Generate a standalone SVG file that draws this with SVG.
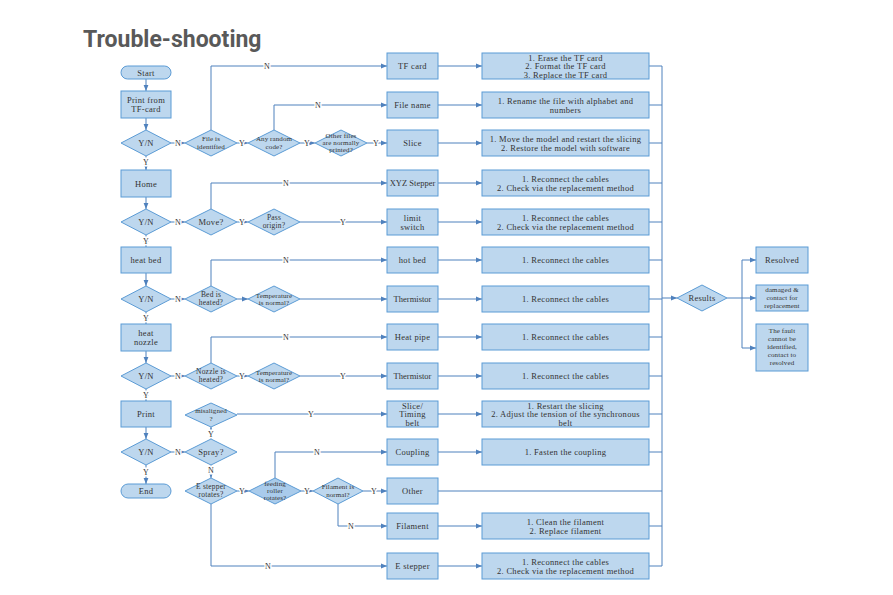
<svg xmlns="http://www.w3.org/2000/svg" width="893" height="595" viewBox="0 0 893 595">
<defs>
<marker id="ah" viewBox="0 0 10 10" refX="10" refY="5" markerWidth="6" markerHeight="6" orient="auto" markerUnits="userSpaceOnUse">
<path d="M0,1 L10,5 L0,9 Z" fill="#4f81bd"/>
</marker>
<style>
.b{fill:#bdd7ee;stroke:#5b9bd5;stroke-width:1}
.t{font-family:"Liberation Serif",serif;font-size:8.5px;letter-spacing:0.3px;fill:#333;text-anchor:middle}
.m{letter-spacing:0}
.d{font-size:7.5px;letter-spacing:0.2px}
.s{font-size:7px;letter-spacing:0.1px}
.c{fill:none;stroke:#4f81bd;stroke-width:1}
.a{marker-end:url(#ah)}
.l{font-family:"Liberation Serif",serif;font-size:8px;fill:#333;text-anchor:middle;paint-order:stroke;stroke:#fff;stroke-width:3px}
</style>
</defs>
<rect width="893" height="595" fill="#fff"/>
<text x="83" y="47" font-family="Roboto,sans-serif" font-weight="bold" font-size="23" fill="#595959">Trouble-shooting</text>

<g id="connectors">
<path class="c a" d="M146,79 V91"/>
<path class="c a" d="M146,118 V130"/>
<path class="c a" d="M146,156 V170"/>
<path class="c a" d="M146,197 V209"/>
<path class="c a" d="M146,235 V247"/>
<path class="c a" d="M146,273 V286"/>
<path class="c a" d="M146,312 V324"/>
<path class="c a" d="M146,351 V363"/>
<path class="c a" d="M146,389 V401"/>
<path class="c a" d="M146,427 V439"/>
<path class="c a" d="M146,465 V484"/>
<path class="c a" d="M171,143 H185"/>
<path class="c a" d="M171,222 H185"/>
<path class="c a" d="M171,299 H185"/>
<path class="c a" d="M171,376 H185"/>
<path class="c a" d="M171,452 H185"/>
<path class="c a" d="M211,130 V66 H387"/>
<path class="c a" d="M237,143 H248"/>
<path class="c a" d="M274,130 V105 H387"/>
<path class="c a" d="M300,143 H315"/>
<path class="c a" d="M367,143 H387"/>
<path class="c a" d="M211,209 V183 H387"/>
<path class="c a" d="M237,222 H248"/>
<path class="c a" d="M300,222 H387"/>
<path class="c a" d="M211,286 V260 H387"/>
<path class="c a" d="M237,299 H248"/>
<path class="c a" d="M300,299 H387"/>
<path class="c a" d="M211,363 V337 H387"/>
<path class="c a" d="M237,376 H248"/>
<path class="c a" d="M300,376 H387"/>
<path class="c a" d="M211,439 V427"/>
<path class="c a" d="M237,414 H387"/>
<path class="c a" d="M211,465 V478"/>
<path class="c a" d="M237,491 H249"/>
<path class="c a" d="M211,504 V566 H387"/>
<path class="c a" d="M275,478 V452 H387"/>
<path class="c a" d="M301,491 H313"/>
<path class="c a" d="M363,491 H387"/>
<path class="c a" d="M338,504 V526 H387"/>
<path class="c a" d="M438,66 H482"/>
<path class="c a" d="M438,105 H482"/>
<path class="c a" d="M438,143 H482"/>
<path class="c a" d="M438,183 H482"/>
<path class="c a" d="M438,222 H482"/>
<path class="c a" d="M438,260 H482"/>
<path class="c a" d="M438,299 H482"/>
<path class="c a" d="M438,337 H482"/>
<path class="c a" d="M438,376 H482"/>
<path class="c a" d="M438,414 H482"/>
<path class="c a" d="M438,452 H482"/>
<path class="c" d="M438,491 H662"/>
<path class="c a" d="M438,526 H482"/>
<path class="c a" d="M438,566 H482"/>
<path class="c" d="M649,66 H662 M649,105 H662 M649,143 H662 M649,183 H662 M649,222 H662 M649,260 H662 M649,299 H662 M649,337 H662 M649,376 H662 M649,414 H662 M649,452 H662 M649,526 H662 M649,566 H662"/>
<path class="c" d="M662,66 V566"/>
<path class="c a" d="M662,298 H677"/>
<path class="c" d="M727,298 H742 M742,260 V348"/>
<path class="c a" d="M742,260 H756"/>
<path class="c a" d="M742,298 H756"/>
<path class="c a" d="M742,348 H756"/>
<text class="l" x="146" y="165">Y</text>
<text class="l" x="146" y="244">Y</text>
<text class="l" x="146" y="321">Y</text>
<text class="l" x="146" y="398">Y</text>
<text class="l" x="146" y="475">Y</text>
<text class="l" x="178" y="146">N</text>
<text class="l" x="178" y="225">N</text>
<text class="l" x="178" y="302">N</text>
<text class="l" x="178" y="379">N</text>
<text class="l" x="178" y="455">N</text>
<text class="l" x="267" y="69">N</text>
<text class="l" x="242" y="146">Y</text>
<text class="l" x="318" y="108">N</text>
<text class="l" x="307" y="146">Y</text>
<text class="l" x="376" y="146">Y</text>
<text class="l" x="286" y="186">N</text>
<text class="l" x="242" y="225">Y</text>
<text class="l" x="343" y="225">Y</text>
<text class="l" x="286" y="263">N</text>
<text class="l" x="286" y="340">N</text>
<text class="l" x="242" y="379">Y</text>
<text class="l" x="343" y="379">Y</text>
<text class="l" x="211" y="437">Y</text>
<text class="l" x="311" y="417">Y</text>
<text class="l" x="211" y="473">N</text>
<text class="l" x="242" y="494">Y</text>
<text class="l" x="268" y="569">N</text>
<text class="l" x="317" y="455">N</text>
<text class="l" x="307" y="494">Y</text>
<text class="l" x="374" y="494">Y</text>
<text class="l" x="351" y="529">N</text>
</g>

<g id="start"><rect class="b" x="121" y="66" width="50" height="13" rx="6.5"/><text class="t" x="146" y="75.5">Start</text></g>
<g id="print-tf"><rect class="b" x="121" y="91" width="50" height="27"/><text class="t" x="146" y="102.5">Print from<tspan x="146" dy="9">TF-card</tspan></text></g>
<g id="yn1"><polygon class="b" points="121,143 146,130 171,143 146,156"/><text class="t" x="146" y="146">Y/N</text></g>
<g id="home"><rect class="b" x="121" y="170" width="50" height="27"/><text class="t" x="146" y="186.5">Home</text></g>
<g id="yn2"><polygon class="b" points="121,222 146,209 171,222 146,235"/><text class="t" x="146" y="225">Y/N</text></g>
<g id="heat-bed"><rect class="b" x="121" y="247" width="50" height="26"/><text class="t" x="146" y="263">heat bed</text></g>
<g id="yn3"><polygon class="b" points="121,299 146,286 171,299 146,312"/><text class="t" x="146" y="302">Y/N</text></g>
<g id="heat-nozzle"><rect class="b" x="121" y="324" width="50" height="27"/><text class="t" x="146" y="335.5">heat<tspan x="146" dy="9">nozzle</tspan></text></g>
<g id="yn4"><polygon class="b" points="121,376 146,363 171,376 146,389"/><text class="t" x="146" y="379">Y/N</text></g>
<g id="print"><rect class="b" x="121" y="401" width="50" height="26"/><text class="t" x="146" y="417">Print</text></g>
<g id="yn5"><polygon class="b" points="121,452 146,439 171,452 146,465"/><text class="t" x="146" y="455">Y/N</text></g>
<g id="end"><rect class="b" x="121" y="484" width="50" height="14" rx="7"/><text class="t" x="146" y="494">End</text></g>

<g id="file-identified"><polygon class="b" points="185,143 211,130 237,143 211,156"/><text class="t s" x="211" y="141">File is<tspan x="211" dy="8">identified</tspan></text></g>
<g id="random-code"><polygon class="b" points="248,143 274,130 300,143 274,156"/><text class="t s" x="274" y="141">Any random<tspan x="274" dy="8">code?</tspan></text></g>
<g id="other-files"><polygon class="b" points="315,143 341,130 367,143 341,156"/><text class="t s" x="341" y="138">Other files<tspan x="341" dy="7">are normally</tspan><tspan x="341" dy="7">printed?</tspan></text></g>
<g id="move"><polygon class="b" points="185,222 211,209 237,222 211,235"/><text class="t" x="211" y="225">Move?</text></g>
<g id="pass-origin"><polygon class="b" points="248,222 274,209 300,222 274,235"/><text class="t d" x="274" y="219.5">Pass<tspan x="274" dy="8">origin?</tspan></text></g>
<g id="bed-heated"><polygon class="b" points="185,299 211,286 237,299 211,312"/><text class="t d" x="211" y="296.5">Bed is<tspan x="211" dy="8">heated?</tspan></text></g>
<g id="temp1"><polygon class="b" points="248,299 274,286 300,299 274,312"/><text class="t s" x="274" y="297.5">Temperature<tspan x="274" dy="7">is normal?</tspan></text></g>
<g id="nozzle-heated"><polygon class="b" points="185,376 211,363 237,376 211,389"/><text class="t d" x="211" y="373.5">Nozzle is<tspan x="211" dy="8">heated?</tspan></text></g>
<g id="temp2"><polygon class="b" points="248,376 274,363 300,376 274,389"/><text class="t s" x="274" y="374.5">Temperature<tspan x="274" dy="7">is normal?</tspan></text></g>
<g id="misaligned"><polygon class="b" points="185,415 211,403 237,415 211,427"/><text class="t s" x="211" y="413">misaligned<tspan x="211" dy="8">?</tspan></text></g>
<g id="spray"><polygon class="b" points="185,452 211,439 237,452 211,465"/><text class="t" x="211" y="455">Spray?</text></g>
<g id="e-rotates"><polygon class="b" points="185,491 211,478 237,491 211,504"/><text class="t d" x="211" y="488.5">E stepper<tspan x="211" dy="8">rotates?</tspan></text></g>
<g id="feeding-roller"><polygon class="b" points="249,491 275,478 301,491 275,504" style="fill:#a9cbeb"/><text class="t s" x="275" y="486">feeding<tspan x="275" dy="7">roller</tspan><tspan x="275" dy="7">rotates?</tspan></text></g>
<g id="filament-normal"><polygon class="b" points="313,491 338,478 363,491 338,504"/><text class="t s" x="338" y="489">Filament is<tspan x="338" dy="8">normal?</tspan></text></g>

<g id="tf-card"><rect class="b" x="387" y="53" width="51" height="26"/><text class="t" x="412.5" y="69">TF card</text></g>
<g id="file-name"><rect class="b" x="387" y="92" width="51" height="26"/><text class="t" x="412.5" y="108">File name</text></g>
<g id="slice"><rect class="b" x="387" y="130" width="51" height="26"/><text class="t" x="412.5" y="146">Slice</text></g>
<g id="xyz-stepper"><rect class="b" x="387" y="170" width="51" height="26"/><text class="t m" x="412.5" y="186">XYZ Stepper</text></g>
<g id="limit-switch"><rect class="b" x="387" y="209" width="51" height="26"/><text class="t" x="412.5" y="220.5">limit<tspan x="412.5" dy="9">switch</tspan></text></g>
<g id="hot-bed"><rect class="b" x="387" y="247" width="51" height="26"/><text class="t" x="412.5" y="263">hot bed</text></g>
<g id="thermistor1"><rect class="b" x="387" y="286" width="51" height="26"/><text class="t m" x="412.5" y="302">Thermistor</text></g>
<g id="heat-pipe"><rect class="b" x="387" y="324" width="51" height="26"/><text class="t" x="412.5" y="340">Heat pipe</text></g>
<g id="thermistor2"><rect class="b" x="387" y="363" width="51" height="26"/><text class="t m" x="412.5" y="379">Thermistor</text></g>
<g id="slice-belt"><rect class="b" x="387" y="401" width="51" height="26"/><text class="t" x="412.5" y="408.5">Slice/<tspan x="412.5" dy="8.5">Timing</tspan><tspan x="412.5" dy="8.5">belt</tspan></text></g>
<g id="coupling"><rect class="b" x="387" y="439" width="51" height="26"/><text class="t" x="412.5" y="455">Coupling</text></g>
<g id="other"><rect class="b" x="387" y="478" width="51" height="26"/><text class="t" x="412.5" y="494">Other</text></g>
<g id="filament"><rect class="b" x="387" y="513" width="51" height="26"/><text class="t" x="412.5" y="529">Filament</text></g>
<g id="e-stepper"><rect class="b" x="387" y="553" width="51" height="26"/><text class="t" x="412.5" y="569">E stepper</text></g>

<g id="res-tf"><rect class="b" x="482" y="53" width="167" height="26"/><text class="t" x="565.5" y="60.5">1. Erase the TF card<tspan x="565.5" dy="8.5">2. Format the TF card</tspan><tspan x="565.5" dy="8.5">3. Replace the TF card</tspan></text></g>
<g id="res-name"><rect class="b" x="482" y="92" width="167" height="26"/><text class="t" x="565.5" y="103.5">1. Rename the file with alphabet and<tspan x="565.5" dy="9">numbers</tspan></text></g>
<g id="res-slice"><rect class="b" x="482" y="130" width="167" height="26"/><text class="t" x="565.5" y="141.5">1. Move the model and restart the slicing<tspan x="565.5" dy="9">2. Restore the model with software</tspan></text></g>
<g id="res-xyz"><rect class="b" x="482" y="170" width="167" height="26"/><text class="t" x="565.5" y="181.5">1. Reconnect the cables<tspan x="565.5" dy="9">2. Check via the replacement method</tspan></text></g>
<g id="res-limit"><rect class="b" x="482" y="209" width="167" height="26"/><text class="t" x="565.5" y="220.5">1. Reconnect the cables<tspan x="565.5" dy="9">2. Check via the replacement method</tspan></text></g>
<g id="res-hotbed"><rect class="b" x="482" y="247" width="167" height="26"/><text class="t" x="565.5" y="263">1. Reconnect the cables</text></g>
<g id="res-therm1"><rect class="b" x="482" y="286" width="167" height="26"/><text class="t" x="565.5" y="302">1. Reconnect the cables</text></g>
<g id="res-pipe"><rect class="b" x="482" y="324" width="167" height="26"/><text class="t" x="565.5" y="340">1. Reconnect the cables</text></g>
<g id="res-therm2"><rect class="b" x="482" y="363" width="167" height="26"/><text class="t" x="565.5" y="379">1. Reconnect the cables</text></g>
<g id="res-belt"><rect class="b" x="482" y="401" width="167" height="26"/><text class="t" x="565.5" y="408.5">1. Restart the slicing<tspan x="565.5" dy="8.5">2. Adjust the tension of the synchronous</tspan><tspan x="565.5" dy="8.5">belt</tspan></text></g>
<g id="res-coupling"><rect class="b" x="482" y="439" width="167" height="26"/><text class="t" x="565.5" y="455">1. Fasten the coupling</text></g>
<g id="res-filament"><rect class="b" x="482" y="513" width="167" height="26"/><text class="t" x="565.5" y="524.5">1. Clean the filament<tspan x="565.5" dy="9">2. Replace filament</tspan></text></g>
<g id="res-estepper"><rect class="b" x="482" y="553" width="167" height="26"/><text class="t" x="565.5" y="564.5">1. Reconnect the cables<tspan x="565.5" dy="9">2. Check via the replacement method</tspan></text></g>

<g id="results"><polygon class="b" points="677,298 702,285 727,298 702,311"/><text class="t" x="702" y="301">Results</text></g>
<g id="resolved"><rect class="b" x="756" y="247" width="52" height="26"/><text class="t" x="782" y="263">Resolved</text></g>
<g id="damaged"><rect class="b" x="756" y="285" width="52" height="26"/><text class="t s" x="782" y="292">damaged &amp;<tspan x="782" dy="8">contact for</tspan><tspan x="782" dy="8">replacement</tspan></text></g>
<g id="fault"><rect class="b" x="756" y="324" width="52" height="47"/><text class="t s" x="782" y="333">The fault<tspan x="782" dy="8">cannot be</tspan><tspan x="782" dy="8">identified,</tspan><tspan x="782" dy="8">contact to</tspan><tspan x="782" dy="8">resolved</tspan></text></g>
</svg>
